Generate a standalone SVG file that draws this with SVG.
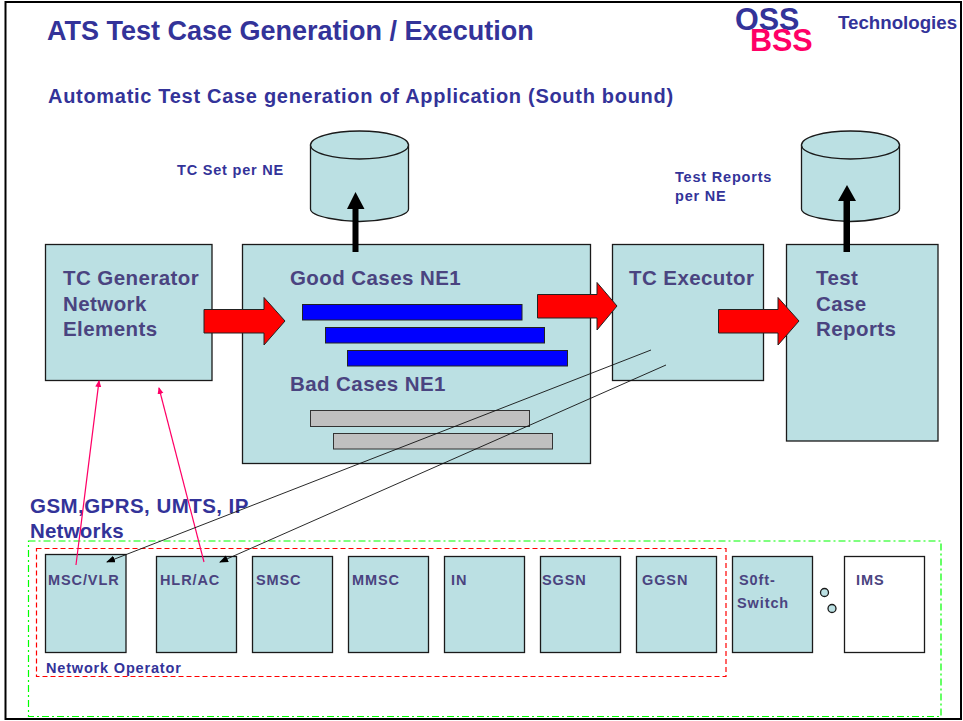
<svg xmlns="http://www.w3.org/2000/svg" width="963" height="721" viewBox="0 0 963 721">
<style>
text{font-family:"Liberation Sans",Arial,sans-serif;font-weight:bold;fill:#333399}
.n{fill:#bbe0e3;stroke:#1a1a1a;stroke-width:1.3}
.w{fill:#fff;stroke:#1a1a1a;stroke-width:1.3}
.l{fill:#4a4480;font-size:20.5px;letter-spacing:.42px}
.s{fill:#4a4480;font-size:14.5px;letter-spacing:.9px}
.t{font-size:14.5px;letter-spacing:.8px}
.b{fill:#0000ff;stroke:#222;stroke-width:1}
.g{fill:#c0c0c0;stroke:#333;stroke-width:1}
.ra{fill:#ff0000;stroke:#222;stroke-width:1}
.ba{fill:#000}
.pk{stroke:#ff0066;stroke-width:1.2;fill:none}
.bk{stroke:#111;stroke-width:.9;fill:none;marker-end:url(#tri)}
</style>
<defs>
<marker id="tri" markerUnits="userSpaceOnUse" markerWidth="10" markerHeight="8" refX="8" refY="3.5" orient="auto"><path d="M0 0L9 3.5L0 7Z" fill="#000"/></marker>
<marker id="trip" markerUnits="userSpaceOnUse" markerWidth="8" markerHeight="8" refX="6" refY="3" orient="auto"><path d="M0 0L7 3L0 6Z" fill="#ff0066"/></marker>
</defs>
<rect width="963" height="721" fill="#fff"/>
<rect x="5.500" y="2" width="955.500" height="717" fill="none" stroke="#000" stroke-width="2"/>

<g id="title">
<text x="47" y="40" font-size="27">ATS Test Case Generation / Execution</text>
<text x="48" y="103" font-size="20" letter-spacing=".7">Automatic Test Case generation of Application (South bound)</text>
</g>
<g id="logo">
<text x="735" y="30" font-size="30.500" style="fill:#333399">OSS</text>
<text x="750" y="51" font-size="30.500" style="fill:#ff0066">BSS</text>
<text x="838" y="29" font-size="18.700">Technologies</text>
</g>
<text class="t" x="177" y="175">TC Set per NE</text>
<text class="t" x="675" y="182">Test Reports</text>
<text class="t" x="675" y="201">per NE</text>

<g id="tc-set-db">
<path class="n" d="M310.500 145V209C310.500 217 343 221.500 359.500 221.500C376 221.500 408.500 217 408.500 209V145Z"/>
<ellipse class="n" cx="359.500" cy="145" rx="49" ry="14"/>
</g>
<g id="test-reports-db">
<path class="n" d="M801.500 145V209C801.500 217 834 221.500 850 221.500C866 221.500 899.500 217 899.500 209V145Z"/>
<ellipse class="n" cx="850.500" cy="145" rx="49" ry="14"/>
</g>

<g id="tc-generator">
<rect class="n" x="45.500" y="244.500" width="166.500" height="136"/>
<text class="l" x="63" y="285">TC Generator</text>
<text class="l" x="63" y="311">Network</text>
<text class="l" x="63" y="336">Elements</text>
</g>
<g id="cases">
<rect class="n" x="242.500" y="244.500" width="348" height="219"/>
<text class="l" x="290" y="285">Good Cases NE1</text>
<rect class="b" x="302.500" y="304.500" width="219.500" height="15.500"/>
<rect class="b" x="325.500" y="327.500" width="219" height="15.500"/>
<rect class="b" x="347.500" y="350.500" width="220" height="15.500"/>
<text class="l" x="290" y="391">Bad Cases NE1</text>
<rect class="g" x="310.500" y="410.500" width="219" height="16"/>
<rect class="g" x="333.500" y="433.500" width="219" height="15.500"/>
</g>
<g id="tc-executor">
<rect class="n" x="612.500" y="244.500" width="151" height="136"/>
<text class="l" x="629" y="285">TC Executor</text>
</g>
<g id="test-case-reports">
<rect class="n" x="786.500" y="244.500" width="151.500" height="196.500"/>
<text class="l" x="816" y="285">Test</text>
<text class="l" x="816" y="311">Case</text>
<text class="l" x="816" y="336">Reports</text>
</g>

<text x="30" y="513" font-size="20.500" letter-spacing=".45">GSM,GPRS, UMTS, IP</text>
<text x="30" y="538" font-size="20.500" letter-spacing=".2">Networks</text>

<rect id="all-networks" x="28.500" y="541" width="912.500" height="175.500" fill="none" stroke="#00ff00" stroke-width="1.200" stroke-dasharray="7 3 2 3"/>
<rect id="network-operator" x="36.500" y="548.500" width="689.500" height="128" fill="none" stroke="#ff0000" stroke-width="1.200" stroke-dasharray="5 3"/>
<text x="46" y="673" font-size="14.500" letter-spacing=".82">Network Operator</text>

<g id="msc-vlr"><rect class="n" x="45.500" y="554.500" width="80.500" height="98"/><text class="s" x="48" y="585">MSC/VLR</text></g>
<g id="hlr-ac"><rect class="n" x="156.500" y="556.500" width="80" height="96"/><text class="s" x="160" y="585">HLR/AC</text></g>
<g id="smsc"><rect class="n" x="252.500" y="556.500" width="80" height="96"/><text class="s" x="256" y="585">SMSC</text></g>
<g id="mmsc"><rect class="n" x="348.500" y="556.500" width="80" height="96"/><text class="s" x="352" y="585">MMSC</text></g>
<g id="in"><rect class="n" x="444.500" y="556.500" width="80" height="96"/><text class="s" x="451" y="585">IN</text></g>
<g id="sgsn"><rect class="n" x="540.500" y="556.500" width="80" height="96"/><text class="s" x="542" y="585">SGSN</text></g>
<g id="ggsn"><rect class="n" x="636.500" y="556.500" width="80" height="96"/><text class="s" x="642" y="585">GGSN</text></g>
<g id="softswitch"><rect class="n" x="732.500" y="556.500" width="80" height="96"/><text class="s" x="739" y="585">S0ft-</text><text class="s" x="737" y="608">Switch</text></g>
<g id="dots"><circle class="n" cx="824.500" cy="592.500" r="4"/><circle class="n" cx="832" cy="608.500" r="4"/></g>
<g id="ims"><rect class="w" x="844.500" y="556.500" width="80" height="96"/><text class="s" x="856" y="585">IMS</text></g>

<g id="connectors">
<path class="ra" d="M204 309.500H264V297.500L285 321L264 345V333H204Z"/>
<path class="ra" d="M537.500 294.500H597V282.500L617 306L597 330V318H537.500Z"/>
<path class="ra" d="M718.500 309.500H778V297.500L799 321L778 345V333H718.500Z"/>
<path class="ba" d="M352.500 252V209H347L355.500 192L364.500 209H358.500V252Z"/>
<path class="ba" d="M843.500 252V201H838L847 185L856 201H850V252Z"/>
<path class="pk" d="M76 565L99 381" marker-end="url(#trip)"/>
<path class="pk" d="M204 562L159 388" marker-end="url(#trip)"/>
<path class="bk" d="M651 350L107 562"/>
<path class="bk" d="M666 365L220 562"/>
</g>
</svg>
